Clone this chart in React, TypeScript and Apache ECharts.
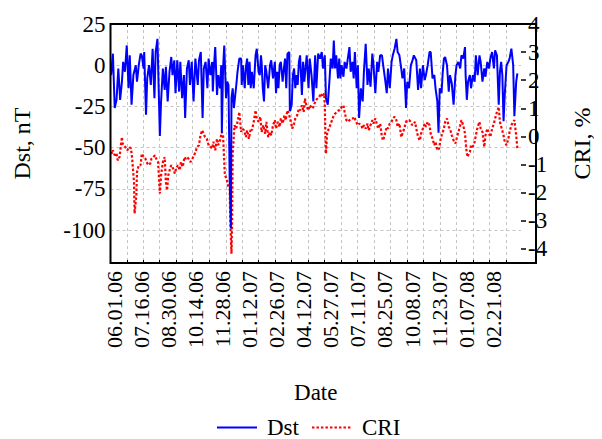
import React, { useEffect, useRef } from "react";
import * as echarts from "echarts";

// x values are days counted from 2006-06-01
const xLabelDays = [0, 45, 90, 135, 180, 225, 270, 315, 360, 405, 450, 495, 540, 585, 630];
const xLabelTexts = [
  "06.01.06", "07.16.06", "08.30.06", "10.14.06", "11.28.06", "01.12.07", "02.26.07", "04.12.07",
  "05.27.07", "07.11.07", "08.25.07", "10.08.07", "11.23.07", "01.07.08", "02.21.08",
];
// 27-day (solar rotation) grid ticks
const rotationTickDays = [
  21.0, 48.4, 75.8, 103.2, 130.6, 158.1, 185.5, 212.9, 240.3, 267.7, 295.1, 322.5,
  349.9, 377.3, 404.7, 432.2, 459.6, 487.0, 514.4, 541.8, 569.2, 596.6, 624.0, 651.4,
];
const dstTicks = [25, 0, -25, -50, -75, -100];
const dstGridValues = [0, -25, -50, -75, -100];
const criTicks = [4, 3, 2, 1, 0, -1, -2, -3, -4];

// Dst, nT : [day, value]
const dst: [number, number][] = [
  [-5, -6], [-2, 7], [1, -26], [4, -21], [7, -2], [10, -21], [13, -10], [15, 2], [18, -4], [21, 12],
  [24, -14], [26, 6], [29, -24], [32, -6], [36, 0], [38, -10], [41, 0], [44, 7], [46, 6], [49, -2],
  [50, 8], [53, -30], [55, -8], [58, 0], [61, -12], [64, 10], [67, -20], [69, 8], [72, 16], [76, -43],
  [78, -22], [81, -2], [84, -15], [86, -1], [89, -22], [92, -4], [95, 5], [97, -6], [100, 3], [102, -17],
  [105, 3], [108, -16], [110, 2], [113, -20], [116, -6], [118, -32], [121, -2], [124, 3], [126, -12], [129, 2],
  [132, -22], [135, 4], [139, -12], [141, 3], [144, 8], [147, -32], [149, -2], [152, 2], [155, -14], [157, 4],
  [160, -6], [163, 2], [164, -16], [166, 0], [168, 11], [171, -18], [173, -6], [176, -14], [178, 0], [179, -41],
  [181, -2], [183, 12], [186, -20], [188, -10], [190, -12], [192, -69], [194, -99], [195, -20], [197, -14], [199, -26],
  [203, -12], [205, -4], [208, 4], [211, 4], [212, -12], [214, 0], [217, -14], [219, -1], [221, 4], [223, -12],
  [225, 2], [227, -14], [229, -4], [232, -14], [235, 6], [237, 10], [240, -4], [242, -6], [244, 6], [245, 2],
  [247, -14], [249, -22], [251, 0], [253, -4], [256, -14], [259, 0], [261, 3], [264, -8], [267, 2], [269, -17],
  [271, -4], [273, -14], [275, 0], [277, 2], [280, -10], [282, -2], [284, 4], [286, -14], [288, 7], [291, 8],
  [292, -28], [295, -24], [297, -6], [299, -2], [301, -14], [303, -6], [305, -12], [307, 2], [309, 6], [312, -18],
  [314, 2], [316, -10], [318, -2], [320, 6], [323, -14], [325, 4], [328, -6], [331, -22],
  [334, 6], [336, -14], [339, 7], [342, 4], [345, 8], [347, -2], [350, 6], [352, -20], [355, -24], [358, -8],
  [360, 4], [363, -2], [365, 15], [367, -2], [369, 6], [372, -8], [374, 4], [376, -8], [378, 0], [381, -7],
  [383, 2], [386, -2], [389, 6], [391, 11], [393, -4], [396, 2], [398, -8], [400, 8], [403, -14], [405, 0],
  [407, -32], [410, -14], [413, -22], [415, -4], [418, 13], [421, -12], [423, -2], [426, -13], [429, 7], [431, 0],
  [434, -17], [437, 2], [439, -4], [442, 6], [445, 6], [447, 0], [450, -8], [453, -17], [455, -2], [458, -14],
  [461, 2], [463, 6], [466, 10], [469, 16], [471, 8], [474, 6], [477, -2], [479, -8], [482, -2], [485, -26],
  [487, -10], [490, -14], [493, 0], [495, 2], [498, 6],
  [502, 3], [505, -15], [508, -2], [510, -14], [513, 0], [516, -9], [518, -6], [521, 0], [524, 8], [526, 8],
  [529, -8], [532, -6], [534, -14], [537, -22], [539, -41], [541, -14], [544, -17], [546, -4], [548, 4], [550, 5],
  [553, 0], [556, -16], [558, -6], [561, -11], [564, -24], [567, -6], [569, 0], [572, 2], [575, -2], [577, 6],
  [580, 4], [583, 11], [584, -6], [586, -21], [588, -10], [591, -6], [593, -14], [596, -6], [599, -10], [601, 6],
  [604, -6], [607, 6], [609, 2], [612, -10], [615, -2], [617, -7], [620, 2], [623, -2], [625, 4], [628, 8],
  [631, -2], [633, 9], [636, 6], [639, -24], [641, -4], [643, 2], [645, -6], [647, -34], [649, -18], [652, 0],
  [655, 2], [657, 4], [660, 10], [663, 0], [665, -31], [668, -10], [670, -5],
];

// CRI, % : [day, value]
const cri: [number, number][] = [
  [-5, -0.55], [-3, -0.61], [-2, -0.49], [1, -0.67], [4, -0.61], [6, -0.85], [9, -0.73], [13, -0.02], [14, -0.25], [17, -0.31],
  [20, -0.43], [22, -0.49], [25, -0.37], [28, -0.43], [30, -0.79], [33, -1.62], [34, -2.74], [37, -2.09], [38, -1.26], [41, -1.02],
  [44, -1.02], [46, -0.61], [49, -0.73], [52, -0.79], [54, -0.91], [57, -1.02], [60, -0.97], [62, -0.79], [65, -0.73], [68, -0.67],
  [70, -0.79], [73, -0.91], [76, -2.03], [78, -1.38], [81, -0.91], [84, -0.73], [86, -1.62], [88, -1.91], [90, -1.38], [93, -1.14],
  [95, -1.02], [98, -1.14], [101, -1.32], [103, -1.14], [106, -1.02], [109, -1.2], [111, -0.91], [114, -1.08], [117, -0.73], [119, -0.79],
  [122, -0.73], [125, -0.85], [127, -0.91], [130, -0.79], [133, -0.67], [135, -0.55], [138, -0.37], [141, -0.31], [143, -0.02], [146, 0.22],
  [149, 0.1], [151, -0.02], [154, -0.08], [157, -0.31], [160, -0.37],
  [163, -0.43], [165, -0.19], [168, -0.49], [171, -0.08], [173, -0.31], [176, -0.14], [179, 0.16], [181, 0.04], [184, -1.38], [187, -1.5],
  [189, -1.74], [192, -1.86], [193, -3.04], [195, -4.17], [196, -3.04], [197, -0.67], [200, 0.4], [203, 0.28], [205, 0.52], [208, 0.87],
  [211, 0.16], [213, 0.28], [216, 0.22], [219, -0.02], [221, 0.22], [224, -0.08], [227, 0.28], [229, 0.22], [232, 0.52], [235, 0.93],
  [237, 0.64], [240, 0.52], [243, 0.7], [245, 0.16], [248, 0.4], [251, 0.1], [253, 0.52], [256, -0.02], [259, 0.16], [261, 0.04],
  [264, 0.4], [267, 0.58], [269, 0.28], [272, 0.52], [275, 0.34], [277, 0.64], [280, 0.46], [283, 0.75], [285, 0.58], [288, 0.93],
  [291, 0.75], [293, 0.58], [296, 0.28], [299, 0.46], [301, 0.64], [304, 0.75], [307, 0.99], [309, 0.93], [312, 1.11], [315, 0.87],
  [317, 1.35], [320, 1.05], [323, 0.93], [325, 1.11],
  [330, 0.99], [333, 1.17], [335, 1.29], [338, 1.35], [341, 1.41], [343, 1.53], [346, 1.41], [349, 1.53], [350, 1.11], [351, 0.16],
  [352, -0.61], [354, 0.16], [357, 0.28], [359, 0.4], [362, 0.58], [365, 0.75], [367, 0.81], [370, 0.87], [373, 0.93], [375, 0.93],
  [378, 1.05], [381, 1.11], [383, 0.87], [386, 0.58], [389, 0.52], [391, 0.58], [394, 0.64], [397, 0.64], [399, 0.7], [402, 0.52],
  [405, 0.4], [407, 0.46], [410, 0.4], [413, 0.28], [415, 0.4], [418, 0.28], [421, 0.46], [423, 0.22], [426, 0.4], [429, 0.58],
  [431, 0.46], [434, 0.64], [437, 0.4], [439, 0.28], [442, 0.46], [445, -0.02], [447, -0.14], [450, 0.1], [453, 0.34], [455, 0.28],
  [458, 0.46], [461, 0.52], [463, 0.64], [466, 0.7], [469, 0.58], [471, 0.34], [474, 0.46], [477, -0.02], [479, 0.1], [482, 0.28],
  [485, 0.52], [487, 0.58], [490, 0.58], [493, 0.52], [495, 0.4], [498, 0.46],
  [500, 0.52], [502, 0.28], [505, -0.02], [508, -0.14], [510, 0.1], [513, 0.28], [516, 0.46], [518, 0.34], [521, 0.52], [524, 0.4],
  [526, 0.1], [529, -0.08], [532, -0.31], [534, -0.19], [537, -0.49], [540, -0.43], [542, -0.14], [545, 0.1], [548, 0.28], [550, 0.52],
  [553, 0.64], [556, 0.34], [558, 0.28], [561, 0.04], [564, -0.14], [567, -0.25], [569, -0.08], [572, 0.16], [575, 0.4], [577, 0.58],
  [580, 0.4], [583, 0.1], [585, -0.43], [587, -0.73], [591, -0.55], [593, -0.31], [596, -0.37], [599, -0.19], [601, 0.04], [604, 0.34],
  [607, 0.52], [609, 0.28], [612, 0.16], [615, -0.37], [617, 0.04], [620, 0.28], [623, 0.1], [625, -0.02], [628, 0.28], [631, 0.46],
  [633, 0.64], [636, 0.87], [639, 1.05], [641, 0.52], [644, 0.28], [647, 0.04], [649, -0.19], [652, -0.31], [655, -0.08], [657, 0.16],
  [660, 0.4], [663, 0.52], [665, 0.58], [668, 0.04], [670, -0.43],
];

const FONT = "Liberation Serif";
const GRID = { left: 110.5, right: 66, top: 24, bottom: 176 };
const W = 602;
const H = 439;
const GRID_LINE = { show: true, lineStyle: { color: "#c4c4c4", type: [3, 3] as number[], width: 1 } };
const NO_LINE = { show: false, onZero: false };

export default function App() {
  const ref = useRef<HTMLDivElement>(null);
  useEffect(() => {
    if (!ref.current) return;
    const chart = echarts.init(ref.current, undefined, { renderer: "svg" });
    const labelMap: Record<string, string> = {};
    xLabelDays.forEach((d, i) => (labelMap[String(d)] = xLabelTexts[i]));
    chart.setOption({
      animation: false,
      textStyle: { fontFamily: FONT, color: "#000" },
      grid: { ...GRID, show: false },
      graphic: [
        {
          type: "rect",
          z: 100,
          silent: true,
          shape: {
            x: GRID.left,
            y: GRID.top,
            width: W - GRID.left - GRID.right,
            height: H - GRID.top - GRID.bottom,
          },
          style: { fill: "none", stroke: "#000", lineWidth: 2 },
        },
      ],
      legend: {
        data: ["Dst", "CRI"],
        left: 211,
        top: 411,
        itemWidth: 40,
        itemHeight: 14,
        itemGap: 12,
        itemStyle: { opacity: 0 },
        textStyle: { fontFamily: FONT, fontSize: 23, color: "#000", padding: [0, 0, 0, 5] },
      },
      xAxis: [
        {
          type: "value",
          position: "bottom",
          min: -6,
          max: 676,
          name: "Date",
          nameLocation: "middle",
          nameGap: 118,
          nameTextStyle: { fontFamily: FONT, fontSize: 23, color: "#000" },
          axisLine: NO_LINE,
          axisTick: { show: true, inside: true, length: 3, customValues: rotationTickDays, lineStyle: { color: "#000" } },
          axisLabel: {
            show: true,
            customValues: xLabelDays,
            rotate: 90,
            margin: 8,
            fontFamily: FONT,
            fontSize: 22,
            color: "#000",
            formatter: (v: number) => labelMap[String(v)] ?? "",
          },
          splitLine: { show: false },
        },
        {
          type: "value",
          position: "top",
          min: -6,
          max: 676,
          axisLine: NO_LINE,
          axisTick: { show: true, inside: true, length: 3, customValues: rotationTickDays, lineStyle: { color: "#000" } },
          axisLabel: { show: false, customValues: rotationTickDays },
          splitLine: GRID_LINE,
        },
      ],
      yAxis: [
        {
          type: "value",
          position: "left",
          min: -120,
          max: 25,
          name: "Dst, nT",
          nameLocation: "middle",
          nameRotate: 90,
          nameGap: 77,
          nameTextStyle: { fontFamily: FONT, fontSize: 24, color: "#000" },
          axisLine: NO_LINE,
          axisTick: { show: false, customValues: dstTicks },
          minorTick: { show: false },
          axisLabel: { customValues: dstTicks, margin: 5, fontFamily: FONT, fontSize: 23, color: "#000" },
          splitLine: { show: false },
        },
        {
          type: "value",
          position: "right",
          min: -4.5,
          max: 4,
          name: "CRI, %",
          nameLocation: "middle",
          nameRotate: 90,
          nameGap: 49,
          nameTextStyle: { fontFamily: FONT, fontSize: 24, color: "#000" },
          axisLine: NO_LINE,
          axisTick: { show: true, length: 5, customValues: criTicks, lineStyle: { color: "#000", width: 1.5 } },
          minorTick: { show: false },
          axisLabel: { customValues: criTicks, margin: 7, fontFamily: FONT, fontSize: 23, color: "#000" },
          splitLine: { show: false },
        },
        {
          type: "value",
          position: "left",
          min: -120,
          max: 25,
          show: true,
          axisLine: NO_LINE,
          axisTick: { show: false, customValues: dstGridValues },
          axisLabel: { show: false, customValues: dstGridValues },
          splitLine: GRID_LINE,
        },
      ],
      series: [
        {
          name: "CRI",
          type: "line",
          xAxisIndex: 0,
          yAxisIndex: 1,
          data: cri,
          symbol: "none",
          lineStyle: { color: "#ff0000", width: 2.2, type: [2.5, 2] },
          itemStyle: { color: "#ff0000" },
          z: 2,
        },
        {
          name: "Dst",
          type: "line",
          xAxisIndex: 0,
          yAxisIndex: 0,
          data: dst,
          symbol: "none",
          lineStyle: { color: "#0000ff", width: 2 },
          itemStyle: { color: "#0000ff" },
          z: 3,
        },
      ],
    });
    return () => chart.dispose();
  }, []);
  return (
    <div
      ref={ref}
      style={{ position: "fixed", left: 0, top: 0, width: W, height: H, background: "#fff" }}
    />
  );
}
